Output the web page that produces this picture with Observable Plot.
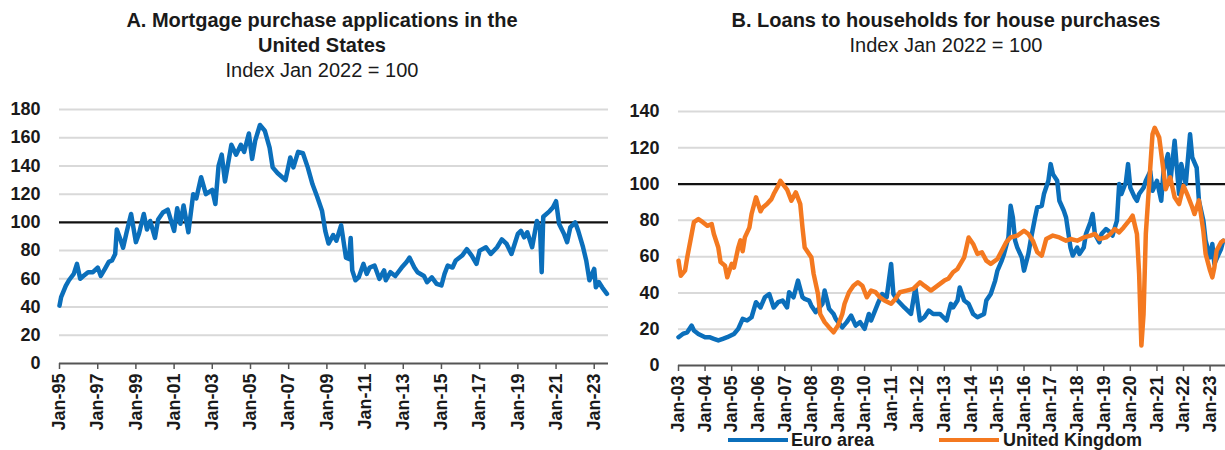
<!DOCTYPE html>
<html>
<head>
<meta charset="utf-8">
<script src="https://cdn.jsdelivr.net/npm/d3@7"></script>
<script src="https://cdn.jsdelivr.net/npm/@observablehq/plot@0.6"></script>
<style>
  body { margin: 0; background: #fff; font-family: "Liberation Sans", Arial, sans-serif; color: #1a1a1a; }
  #wrap { position: relative; width: 1225px; height: 450px; overflow: hidden; }
  .title { position: absolute; top: 8px; text-align: center; font-size: 20px; line-height: 25px; }
  .title b { font-weight: bold; }
  .chart { position: absolute; top: 90px; }
  .legend { position: absolute; top: 430px; height: 20px; font-size: 18px; font-weight: bold; line-height: 20px; }
  .swatch { position: absolute; top: 8px; height: 4px; width: 60px; }
  .ltext { position: absolute; top: 0; white-space: nowrap; }
</style>
</head>
<body>
<div id="wrap">
  <div class="title" style="left:22px;width:600px;"><b>A. Mortgage purchase applications in the<br>United States</b><br>Index Jan 2022 = 100</div>
  <div class="title" style="left:646px;width:600px;"><b>B. Loans to households for house purchases</b><br>Index Jan 2022 = 100</div>
  <div class="chart" id="chartA" style="left:0px;"></div>
  <div class="chart" id="chartB" style="left:612px;"></div>
  <div class="legend" style="left:0;width:1225px;">
    <div class="swatch" style="left:728px;background:#0b6fbb;"></div>
    <div class="ltext" style="left:791px;">Euro area</div>
    <div class="swatch" style="left:939px;background:#f47920;"></div>
    <div class="ltext" style="left:1003px;">United Kingdom</div>
  </div>
</div>
<script>
// ---------- Panel A: US mortgage purchase applications (Index Jan 2022 = 100)
const usDates = ["1995-01","1995-02","1995-05","1995-07","1995-10","1995-12","1996-02","1996-04","1996-07","1996-10",
"1997-01","1997-03","1997-06","1997-08","1997-10","1997-12","1998-01","1998-03","1998-05","1998-07","1998-10",
"1999-01","1999-03","1999-06","1999-08","1999-10","2000-01","2000-03","2000-06","2000-09","2001-01","2001-03",
"2001-05","2001-07","2001-10","2002-01","2002-03","2002-06","2002-09","2003-01","2003-03","2003-05","2003-07",
"2003-09","2004-01","2004-04","2004-07","2004-09","2004-12","2005-02","2005-04","2005-07","2005-10","2006-01",
"2006-03","2006-06","2006-09","2006-11","2007-02","2007-04","2007-07","2007-10","2008-01","2008-04","2008-07",
"2008-10","2008-12","2009-02","2009-05","2009-07","2009-10","2010-01","2010-03","2010-04","2010-05","2010-07",
"2010-09","2010-12","2011-02","2011-04","2011-07","2011-10","2012-01","2012-02","2012-05","2012-08","2012-12",
"2013-03","2013-05","2013-08","2013-10","2014-02","2014-04","2014-07","2014-10","2015-01","2015-03","2015-05",
"2015-08","2015-10","2016-02","2016-05","2016-08","2016-11","2017-01","2017-05","2017-08","2017-12","2018-03",
"2018-06","2018-09","2019-01","2019-03","2019-05","2019-07","2019-10","2020-01","2020-03","2020-04","2020-05",
"2020-09","2020-11","2021-01","2021-03","2021-06","2021-08","2021-10","2022-01","2022-03","2022-06","2022-08",
"2022-10","2023-01","2023-02","2023-04","2023-06","2023-09"];
const usValues = [41,47,55,59,63.5,70.6,60,62,64.7,64.7,
68,62,68,72,73,77.6,95,89,82,92,106,
86,92,106,95,101,89,102,107,109,94,110,
99,112,93,120,117,132,120,123,113,140,148,
129,155,148,155,150,163,145,158,169,165,153,
139,135,132,130,146,139,150,149,139,127,118,
108,94,85,91,87,98,75,74,89,66,59,
61,70.6,63.5,68,69.4,60,66,59,64.7,62,68,
71.8,75,68,64.7,62,57.6,61,56.5,55.3,63.5,69.4,
68,73,76.5,81,76.5,70.6,80,82.4,77.6,82.4,88,
84.7,77.6,91.8,94,89.4,93,82.4,101,95,64.7,104,
108,110.6,115,98.8,92,86,96.5,100,94,82.4,73,
59,67,54,57.6,54,49.4];

// ---------- Panel B: loans to households for house purchases
const euroDates = ["2003-01","2003-03","2003-05","2003-07","2003-08","2003-10","2004-01","2004-03","2004-05","2004-07",
"2004-09","2004-11","2005-02","2005-04","2005-06","2005-08","2005-10","2005-12","2006-02","2006-04","2006-06",
"2006-08","2006-10","2006-12","2007-02","2007-03","2007-05","2007-07","2007-09","2007-10","2007-12","2008-01",
"2008-03","2008-06","2008-07","2008-09","2008-11","2008-12","2009-03","2009-05","2009-07","2009-09","2009-11",
"2010-01","2010-03","2010-04","2010-07","2010-09","2010-11","2011-01","2011-02","2011-04","2011-07","2011-10",
"2011-12","2012-02","2012-04","2012-06","2012-08","2012-11","2013-02","2013-04","2013-05","2013-07","2013-08",
"2013-10","2013-12","2014-02","2014-04","2014-07","2014-08","2014-10","2014-12","2015-01","2015-03","2015-04",
"2015-06","2015-07","2015-08","2015-09","2015-10","2015-12","2016-01","2016-03","2016-04","2016-06","2016-07",
"2016-09","2016-10","2016-12","2017-01","2017-02","2017-04","2017-05","2017-07","2017-08","2017-10","2017-11",
"2018-01","2018-02","2018-04","2018-05","2018-07","2018-08","2018-09","2018-11","2018-12","2019-02","2019-04",
"2019-05","2019-07","2019-08","2019-09","2019-11","2019-12","2020-01","2020-03","2020-04","2020-05","2020-07",
"2020-08","2020-10","2020-11","2021-01","2021-03","2021-04","2021-06","2021-07","2021-09","2021-10","2021-11",
"2021-12","2022-02","2022-04","2022-05","2022-07","2022-08","2022-10","2022-11","2023-01","2023-02","2023-03",
"2023-05","2023-06","2023-07"];
const euroValues = [15.6,17.4,18.3,22,19.3,17.4,15.6,15.6,14.7,13.8,
14.7,15.6,17.4,20.2,25.7,24.8,26.6,34.9,32,37.6,39.4,
32,34.9,35.8,32,40.4,37.6,46.8,37.6,36.7,35.8,33,
29.4,34,41.3,31.2,28.4,25.7,21,23.9,27.5,22,23.9,
20.2,28.4,24.8,34,39.4,37.6,56,39.4,35.8,32,28.4,
43,24.8,26.6,30.3,28.4,28.4,24.8,34,32,35.8,43,
35.8,34,28.4,26.6,28.4,35.8,39.4,46.8,52.3,57.8,61.5,
70.6,88,81.6,68.8,65,59.6,52.3,61.5,68.8,81.6,87.2,
88,94.5,101.8,111,105.5,101.8,90.8,85.3,81.6,65,60.6,
65,61.5,65,72.5,79,83.5,72.5,67.9,72.5,75.2,73.4,
71.6,79.8,100,94.5,101,111,98,92.7,90.8,94.5,98,
101.8,107,96.3,101.8,90.8,107,116.5,100,123.9,109,94.5,
111,100,127.5,114.7,109,90.8,79.8,68.8,59.6,67,56,
61.5,64.2,68.8];

const ukDates = ["2003-01","2003-02","2003-04","2003-05","2003-07","2003-08","2003-10","2003-12","2004-02","2004-04",
"2004-05","2004-07","2004-08","2004-10","2004-11","2005-01","2005-02","2005-04","2005-05","2005-06","2005-07",
"2005-09","2005-10","2005-12","2006-02","2006-03","2006-05","2006-07","2006-08","2006-10","2006-11","2007-02",
"2007-04","2007-06","2007-08","2007-09","2007-10","2008-01","2008-02","2008-04","2008-05","2008-07","2008-09",
"2008-11","2009-01","2009-03","2009-04","2009-06","2009-08","2009-10","2009-12","2010-02","2010-04","2010-06",
"2010-08","2010-10","2011-01","2011-03","2011-05","2011-08","2011-11","2012-02","2012-04","2012-07","2012-10",
"2013-01","2013-03","2013-05","2013-07","2013-10","2013-12","2014-02","2014-04","2014-06","2014-08","2014-10",
"2015-01","2015-03","2015-05","2015-07","2015-10","2016-01","2016-03","2016-05","2016-07","2016-09","2016-11",
"2017-02","2017-05","2017-08","2017-10","2018-01","2018-04","2018-07","2018-09","2018-11","2019-02","2019-04",
"2019-06","2019-08","2019-10","2020-01","2020-02","2020-04","2020-05","2020-06","2020-07","2020-08","2020-10",
"2020-11","2020-12","2021-02","2021-04","2021-05","2021-07","2021-09","2021-11","2022-01","2022-03","2022-05",
"2022-06","2022-08","2022-10","2022-11","2023-01","2023-02","2023-03","2023-04","2023-06","2023-07"];
const ukValues = [57.8,49.5,52.3,59.6,72.5,79,80.7,79,77,78,
72.5,65,57,55,48.6,56,54,65,69,63,70.6,
76,83.5,92.7,85,87,89,91.7,94.5,99,101.8,97,
90.8,95.4,89,76,65,59.6,50.5,39.4,28.4,23.9,21,
18.3,22,28.4,34,40.4,44,45.9,44,37.6,41.3,40.4,
37.6,35.8,34,36.7,40.4,41.3,42.2,45.9,44,41.3,44,
46.8,48,51.4,53.2,59.6,70.6,67,61.5,62.4,57.8,56,
58.7,63.3,67.9,70.6,71.6,74.3,72.5,68.8,62.4,60.6,69.7,
71.6,70.6,68.8,69.7,68.8,70.6,71.6,72.5,69.7,70.6,72.5,
75.2,73.4,76.1,80.7,82.6,72.5,50.5,11,28.4,72.5,109,
127.5,131,125.7,107.3,97.2,103.7,92.7,89,99,93.6,87.2,
83.5,91,74,61.5,52.3,48.6,54,63.3,67.9,68.8];

const yTicksA = [0, 20, 40, 60, 80, 100, 120, 140, 160, 180];
const yTicksB = [0, 20, 40, 60, 80, 100, 120, 140];
const xTickYearsA = [1995,1997,1999,2001,2003,2005,2007,2009,2011,2013,2015,2017,2019,2021,2023];
const xTickYearsB = [2003,2004,2005,2006,2007,2008,2009,2010,2011,2012,2013,2014,2015,2016,2017,2018,2019,2020,2021,2022,2023];
const reference = 100;

const parse = d3.utcParse("%Y-%m");
const fmt = d3.utcFormat("%b-%y");
const yearDate = y => new Date(Date.UTC(y, 0, 1));

const usData = usDates.map((d, i) => ({date: parse(d), value: usValues[i]}));
const euroData = euroDates.map((d, i) => ({date: parse(d), value: euroValues[i], series: "Euro area"}));
const ukData = ukDates.map((d, i) => ({date: parse(d), value: ukValues[i], series: "United Kingdom"}));

const BLUE = "#0b6fbb", ORANGE = "#f47920";
const style = {fontFamily: "'Liberation Sans', Arial, sans-serif", fontSize: "18px", color: "#1a1a1a", background: "#fff"};

function commonMarks(yTicks, xTicks) {
  return [
    Plot.gridY(yTicks.filter(v => v !== 0 && v !== reference), {stroke: "#d9d9d9", strokeOpacity: 1, strokeWidth: 2}),
    Plot.ruleY([reference], {stroke: "#111", strokeWidth: 2.2}),
    Plot.axisY({ticks: yTicks, label: null, tickSize: 0, tickPadding: 19, fontSize: 18, fontWeight: "bold", fill: "#1a1a1a"}),
    Plot.axisX({ticks: xTicks, label: null, tickFormat: fmt, tickRotate: -90, tickSize: 6, tickPadding: 4,
                fontSize: 18, fontWeight: "bold", fill: "#1a1a1a", stroke: "#555", strokeWidth: 1.5}),
    Plot.ruleY([0], {stroke: "#555", strokeWidth: 2})
  ];
}

const chartA = Plot.plot({
  width: 612, height: 360,
  marginLeft: 59, marginRight: 4, marginTop: 19, marginBottom: 87,
  style,
  x: {type: "utc", domain: [parse("1995-01"), parse("2023-10")], label: null},
  y: {domain: [0, 180], label: null},
  marks: [
    ...commonMarks(yTicksA, xTickYearsA.map(yearDate)),
    Plot.line(usData, {x: "date", y: "value", stroke: BLUE, strokeWidth: 4.5, strokeLinejoin: "round"})
  ]
});
document.getElementById("chartA").append(chartA);

const chartB = Plot.plot({
  width: 613, height: 342,
  marginLeft: 66, marginRight: 0, marginTop: 21, marginBottom: 67,
  style,
  x: {type: "utc", domain: [parse("2003-01"), parse("2023-08")], label: null},
  y: {domain: [0, 140], label: null},
  marks: [
    ...commonMarks(yTicksB, xTickYearsB.map(yearDate)),
    Plot.line(euroData, {x: "date", y: "value", stroke: BLUE, strokeWidth: 4.5, strokeLinejoin: "round"}),
    Plot.line(ukData, {x: "date", y: "value", stroke: ORANGE, strokeWidth: 4.5, strokeLinejoin: "round"})
  ]
});
document.getElementById("chartB").append(chartB);
</script>
</body>
</html>
